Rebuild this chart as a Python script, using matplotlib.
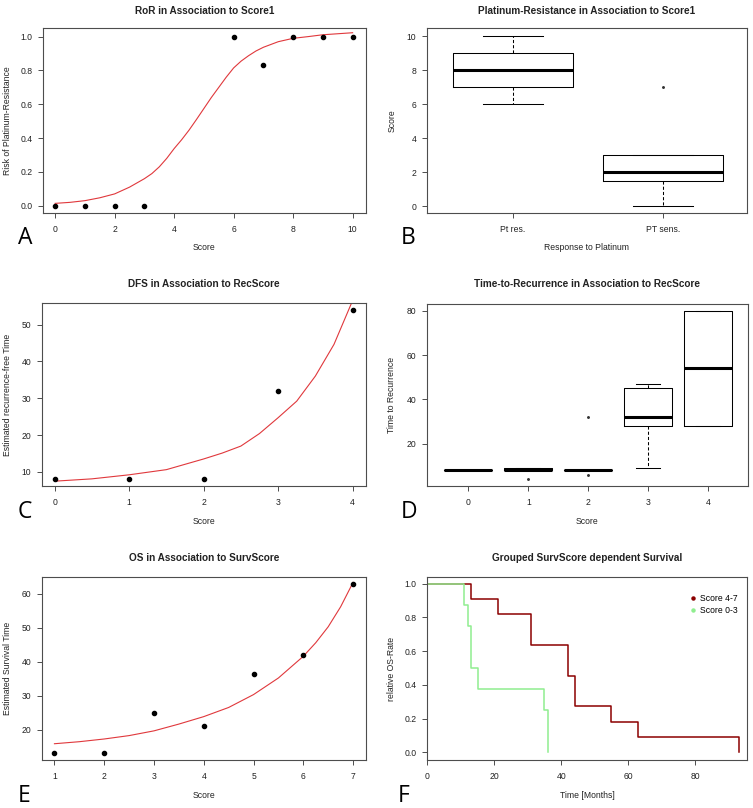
import matplotlib
matplotlib.use("Agg")
import matplotlib.pyplot as plt
from matplotlib.lines import Line2D

plt.rcParams['font.family'] = ['Liberation Sans', 'DejaVu Sans']

W, H = 753, 808

# ---- data ----
# A: RoR vs Score1
a_x = [0, 1, 2, 3, 6, 7, 8, 9, 10]
a_y = [0, 0, 0, 0, 1.0, 0.83, 1.0, 1.0, 1.0]
a_fit_x = [0, 0.5, 1, 1.5, 2, 2.5, 3, 3.25, 3.5, 3.75, 4, 4.25, 4.5, 4.75, 5, 5.25,
           5.5, 5.75, 6, 6.25, 6.5, 6.75, 7, 7.5, 8, 8.5, 9, 9.5, 10]
a_fit_y = [0.014, 0.02, 0.03, 0.047, 0.07, 0.11, 0.16, 0.19, 0.23, 0.28, 0.338, 0.39,
           0.447, 0.51, 0.575, 0.64, 0.70, 0.76, 0.815, 0.855, 0.887, 0.915, 0.937,
           0.97, 0.99, 1.0, 1.011, 1.017, 1.023]

# B: Score by platinum response
b_labels = ['Pt res.', 'PT sens.']
b_med = [8, 2]
b_q1 = [7, 1.5]
b_q3 = [9, 3]
b_lo = [6, 0]
b_hi = [10, 3]
b_out = [[], [7]]

# C: DFS vs RecScore
c_x = [0, 1, 2, 3, 4]
c_y = [8, 8, 8, 32, 54]
c_fit_x = [0, 0.5, 1, 1.5, 2, 2.25, 2.5, 2.75, 3, 3.25, 3.5, 3.75, 4]
c_fit_y = [7.47, 8.1, 9.2, 10.6, 13.5, 15.1, 17.0, 20.4, 24.7, 29.2, 36.0, 44.6, 56.5]

# D: time to recurrence by RecScore
d_labels = ['0', '1', '2', '3', '4']
d_med = [8, 8, 8, 32, 54]
d_q1 = [8, 8, 8, 28, 28]
d_q3 = [8, 9, 8, 45, 80]
d_lo = [8, 8, 8, 9, 28]
d_hi = [8, 9, 8, 47, 80]
d_out = [[], [4], [32, 6], [], []]

# E: OS vs SurvScore
e_x = [1, 2, 3, 4, 5, 6, 7]
e_y = [13, 13, 25, 21, 36.5, 42, 63]
e_fit_x = [1, 1.5, 2, 2.5, 3, 3.5, 4, 4.5, 5, 5.5, 6, 6.25, 6.5, 6.75, 7]
e_fit_y = [15.8, 16.4, 17.2, 18.2, 19.6, 21.6, 23.8, 26.5, 30.3, 35.2, 41.6, 45.6,
           50.3, 56.2, 63.4]

# F: Kaplan-Meier curves
f_hi_t = [0, 13, 21, 31, 42, 44, 55, 63, 93]
f_hi_s = [1.0, 0.909, 0.818, 0.636, 0.455, 0.273, 0.182, 0.091, 0.0]
f_lo_t = [0, 11, 12, 13, 15, 35, 36]
f_lo_s = [1.0, 0.875, 0.75, 0.5, 0.375, 0.25, 0.0]

FRAME = '#4d4d4d'
TXT = '#222222'
RED = '#e0383c'
FS = 6.2

fig = plt.figure(figsize=(W / 100, H / 100), dpi=100)


def make_ax(l, t, r, b):
    ax = fig.add_axes([l / W, 1 - b / H, (r - l) / W, (b - t) / H])
    for s in ax.spines.values():
        s.set_color(FRAME)
        s.set_linewidth(0.8)
    ax.tick_params(direction='out', length=3.6, width=0.7, color=FRAME,
                   labelsize=FS, labelcolor=TXT)
    ax.tick_params(axis='x', pad=4.8)
    ax.tick_params(axis='y', pad=4.0)
    return ax


def label(ax_box, title, xlab, ylab, letter, title_y, xlab_y, ylab_x, letter_xy,
          letter_va='baseline'):
    l, t, r, b = ax_box
    cx = (l + r) / 2
    fig.text(cx / W, 1 - title_y / H, title, ha='center', va='center',
             fontsize=7.2, fontweight='bold', color=TXT)
    fig.text(cx / W, 1 - xlab_y / H, xlab, ha='center', va='center',
             fontsize=FS, color=TXT)
    fig.text(ylab_x / W, 1 - ((t + b) / 2) / H, ylab, ha='center', va='center',
             rotation=90, fontsize=FS, color=TXT)
    fig.text(letter_xy[0] / W, 1 - letter_xy[1] / H, letter, ha='left',
             va=letter_va, fontsize=16.5, color='black', family='Open Sans')


def boxes(ax, pos, med, q1, q3, lo, hi, out):
    stats = []
    for i in range(len(pos)):
        stats.append(dict(med=med[i], q1=q1[i], q3=q3[i], whislo=lo[i],
                          whishi=hi[i], fliers=out[i]))
    ax.bxp(stats, positions=pos, widths=0.8, showfliers=True,
           boxprops=dict(color='black', linewidth=0.75),
           medianprops=dict(color='black', linewidth=2.2, solid_capstyle='butt'),
           whiskerprops=dict(color='black', linewidth=0.75, linestyle=(0, (3, 2))),
           capprops=dict(color='black', linewidth=0.75),
           flierprops=dict(marker='.', markersize=2.2, color='#333333',
                           markerfacecolor='#333333', markeredgecolor='#333333'))


# ---- A ----
boxA = (43, 28, 366, 213)
ax = make_ax(*boxA)
ax.plot(a_fit_x, a_fit_y, color=RED, lw=0.8)
ax.plot(a_x, a_y, 'o', color='black', ms=3.0)
ax.set_xlim(-0.41, 10.45)
ax.set_ylim(-0.043, 1.051)
ax.set_xticks(range(0, 11, 2))
ax.set_yticks([0, 0.2, 0.4, 0.6, 0.8, 1.0])
ax.set_yticklabels(['0.0', '0.2', '0.4', '0.6', '0.8', '1.0'])
label(boxA, 'RoR in Association to Score1', 'Score', 'Risk of Platinum-Resistance',
      'A', 11, 247, 8, (18, 244))

# ---- B ----
boxB = (427, 28, 747, 213)
ax = make_ax(*boxB)
boxes(ax, [1, 2], b_med, b_q1, b_q3, b_lo, b_hi, b_out)
ax.set_xlim(0.427, 2.56)
ax.set_ylim(-0.41, 10.49)
ax.set_xticks([1, 2])
ax.set_xticklabels(b_labels)
ax.set_yticks(range(0, 11, 2))
label(boxB, 'Platinum-Resistance in Association to Score1', 'Response to Platinum',
      'Score', 'B', 11, 247, 392, (401, 244))

# ---- C ----
boxC = (42, 303, 366, 486)
ax = make_ax(*boxC)
ax.plot(c_fit_x, c_fit_y, color=RED, lw=0.8)
ax.plot(c_x, c_y, 'o', color='black', ms=3.0)
ax.set_xlim(-0.17, 4.18)
ax.set_ylim(6.16, 55.84)
ax.set_xticks(c_x)
ax.set_yticks([10, 20, 30, 40, 50])
label(boxC, 'DFS in Association to RecScore', 'Score', 'Estimated recurrence-free Time',
      'C', 284, 521, 8, (18, 518))

# ---- D ----
boxD = (427, 304, 748, 486)
ax = make_ax(*boxD)
boxes(ax, [0, 1, 2, 3, 4], d_med, d_q1, d_q3, d_lo, d_hi, d_out)
ax.set_xlim(-0.69, 4.66)
ax.set_ylim(0.96, 83.04)
ax.set_xticks([0, 1, 2, 3, 4])
ax.set_xticklabels(d_labels)
ax.set_yticks([20, 40, 60, 80])
label(boxD, 'Time-to-Recurrence in Association to RecScore', 'Score',
      'Time to Recurrence', 'D', 284, 522, 392, (401, 518))

# ---- E ----
boxE = (42, 577, 366, 760)
ax = make_ax(*boxE)
ax.plot(e_fit_x, e_fit_y, color=RED, lw=0.8)
ax.plot(e_x, e_y, 'o', color='black', ms=3.0)
ax.set_xlim(0.75, 7.26)
ax.set_ylim(11, 65)
ax.set_xticks(e_x)
ax.set_yticks([20, 30, 40, 50, 60])
label(boxE, 'OS in Association to SurvScore', 'Score', 'Estimated Survival Time',
      'E', 558, 795, 8, (18, 807.5), letter_va='bottom')

# ---- F ----
boxF = (427, 577, 747, 760)
ax = make_ax(*boxF)
ax.step(f_hi_t, f_hi_s, where='post', color='#8b0000', lw=1.1)
ax.step(f_lo_t, f_lo_s, where='post', color='#90ee90', lw=1.1)
ax.set_xlim(-0.1, 95.5)
ax.set_ylim(-0.046, 1.04)
ax.set_xticks([0, 20, 40, 60, 80])
ax.set_yticks([0, 0.2, 0.4, 0.6, 0.8, 1.0])
ax.set_yticklabels(['0.0', '0.2', '0.4', '0.6', '0.8', '1.0'])
handles = [Line2D([], [], marker='o', ls='none', ms=2.2, color='#8b0000'),
           Line2D([], [], marker='o', ls='none', ms=2.2, color='#90ee90')]
ax.legend(handles, ['Score 4-7', 'Score 0-3'], loc='upper left',
          bbox_to_anchor=((690 - 427) / 320, 1 - (594 - 577) / 183),
          frameon=False, fontsize=FS, borderpad=0, borderaxespad=0,
          handlelength=0.7, handletextpad=0.5, labelspacing=0.4)
label(boxF, 'Grouped SurvScore dependent Survival', 'Time [Months]', 'relative OS-Rate',
      'F', 558, 795, 392, (398, 807.5), letter_va='bottom')

fig.savefig('out.png', dpi=100)
